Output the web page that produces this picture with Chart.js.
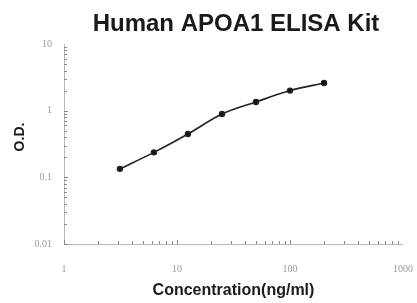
<!DOCTYPE html>
<html>
<head>
<meta charset="utf-8">
<script src="https://cdn.jsdelivr.net/npm/chart.js@4/dist/chart.umd.min.js"></script>
<style>
  html, body { margin: 0; padding: 0; background: #fff; }
  #wrap { width: 417px; height: 303px; position: relative; }
</style>
</head>
<body>
<div id="wrap"><canvas id="c" width="417" height="303"></canvas></div>
<script>
// ---- data ----
const chartTitle = "Human APOA1 ELISA Kit";
const xAxisTitle = "Concentration(ng/ml)";
const yAxisTitle = "O.D.";
const concentrations = [3.125, 6.25, 12.5, 25, 50, 100, 200];
const odValues = [0.134, 0.237, 0.447, 0.89, 1.35, 2.0, 2.6];
const xTickLabels = [1, 10, 100, 1000];
const yTickLabels = [0.01, 0.1, 1, 10];

const points = concentrations.map((c, i) => ({ x: c, y: odValues[i] }));

// custom plugin: title, axis titles, inward minor ticks
const decor = {
  id: 'decor',
  afterDraw(chart) {
    const ctx = chart.ctx;
    const xs = chart.scales.x, ys = chart.scales.y;
    const area = chart.chartArea;
    ctx.save();
    // axis lines
    ctx.strokeStyle = '#b8b8b8';
    ctx.lineWidth = 1;
    ctx.beginPath();
    ctx.moveTo(area.left + 0.5, area.top);
    ctx.lineTo(area.left + 0.5, area.bottom + 0.5);
    ctx.lineTo(area.right, area.bottom + 0.5);
    ctx.stroke();
    // minor ticks (inside)
    ctx.strokeStyle = '#888';
    ctx.beginPath();
    for (let d = 0; d < yTickLabels.length - 1; d++) {
      for (let m = 1; m <= 9; m++) {
        const v = yTickLabels[d] * m;
        const py = Math.round(ys.getPixelForValue(v)) + 0.5;
        const len = m === 1 ? 4 : 3;
        ctx.moveTo(area.left, py);
        ctx.lineTo(area.left + len, py);
      }
    }
    for (let d = 0; d < xTickLabels.length - 1; d++) {
      for (let m = 1; m <= 9; m++) {
        const v = xTickLabels[d] * m;
        const px = Math.round(xs.getPixelForValue(v)) + 0.5;
        const len = m === 1 ? 4 : 3;
        ctx.moveTo(px, area.bottom);
        ctx.lineTo(px, area.bottom - len);
      }
    }
    ctx.stroke();
    // title
    ctx.fillStyle = '#1a1a1a';
    ctx.textAlign = 'center';
    ctx.textBaseline = 'middle';
    ctx.font = 'bold 24px "Liberation Sans", Arial, sans-serif';
    ctx.fillText(chartTitle, 236, 24);
    // x title
    ctx.font = 'bold 16px "Liberation Sans", Arial, sans-serif';
    ctx.fillText(xAxisTitle, (area.left + area.right) / 2, 291);
    // y title
    ctx.save();
    ctx.translate(20, 137);
    ctx.rotate(-Math.PI / 2);
    ctx.font = 'bold 14px "Liberation Sans", Arial, sans-serif';
    ctx.fillText(yAxisTitle, 0, 0);
    ctx.restore();
    ctx.restore();
  }
};

new Chart(document.getElementById('c'), {
  type: 'scatter',
  data: {
    datasets: [{
      data: points,
      showLine: true,
      borderColor: '#222',
      backgroundColor: '#111',
      borderWidth: 1.6,
      pointRadius: 2.4,
      pointHoverRadius: 2.4,
      tension: 0.4,
      cubicInterpolationMode: 'monotone'
    }]
  },
  options: {
    responsive: false,
    animation: false,
    devicePixelRatio: 1,
    layout: { padding: { left: 0, right: 0, top: 44, bottom: 0 } },
    plugins: { legend: { display: false }, title: { display: false }, tooltip: { enabled: false } },
    scales: {
      x: {
        type: 'logarithmic',
        min: 1, max: 1000,
        afterBuildTicks: s => { s.ticks = xTickLabels.map(v => ({ value: v })); },
        afterFit: s => { s.height = 59; s.paddingLeft = 0; s.paddingRight = 14; },
        grid: { display: false, drawTicks: false },
        border: { display: false },
        ticks: {
          padding: 19,
          color: '#999',
          font: { family: '"Liberation Serif", serif', size: 10 },
          maxRotation: 0,
          autoSkip: false,
          callback: v => String(v)
        }
      },
      y: {
        type: 'logarithmic',
        min: 0.01, max: 10,
        afterBuildTicks: s => { s.ticks = yTickLabels.map(v => ({ value: v })); },
        afterFit: s => { s.width = 64; s.paddingTop = 0; s.paddingBottom = 0; },
        grid: { display: false, drawTicks: false },
        border: { display: false },
        ticks: {
          padding: 12,
          color: '#999',
          font: { family: '"Liberation Serif", serif', size: 10 },
          autoSkip: false,
          callback: v => String(v)
        }
      }
    }
  },
  plugins: [decor]
});
</script>
</body>
</html>
